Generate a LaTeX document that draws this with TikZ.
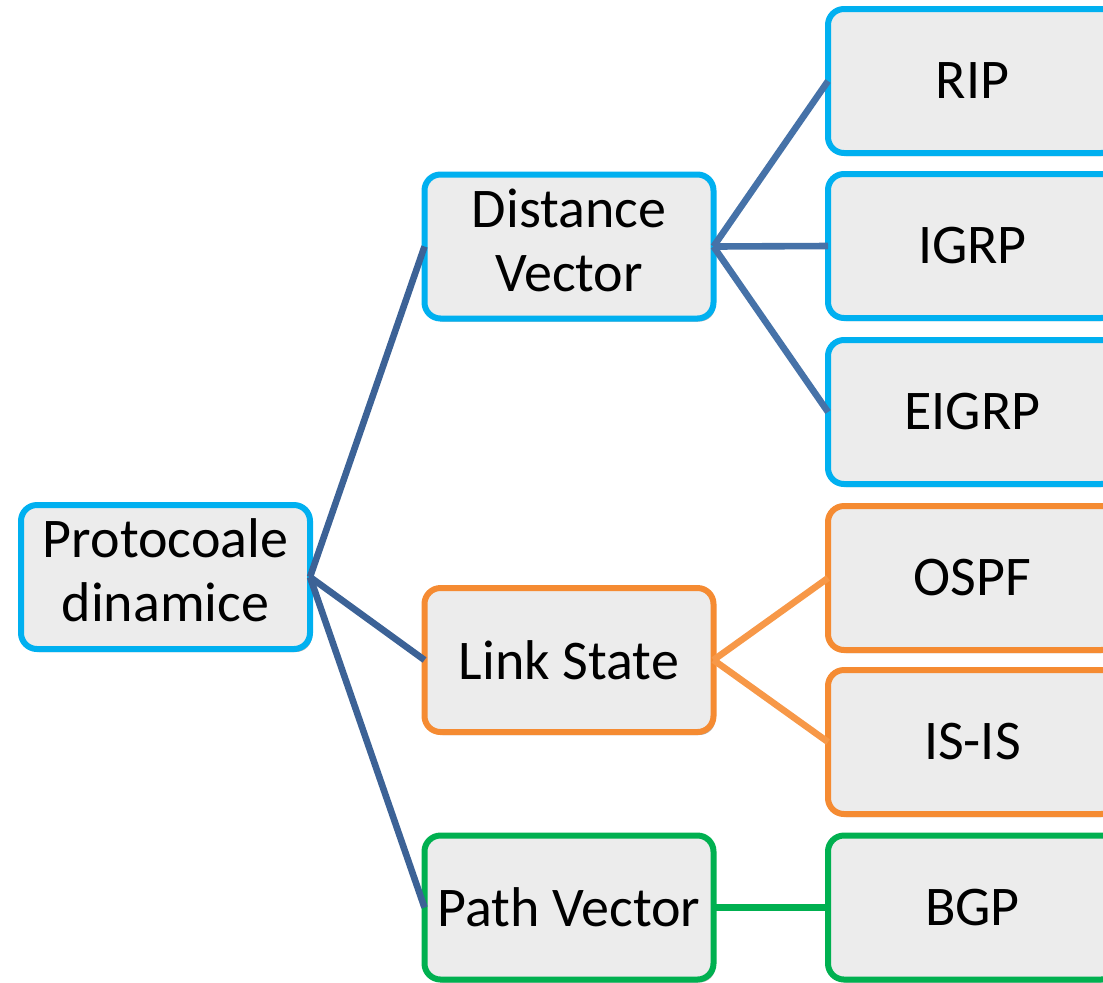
\documentclass[tikz,border=0pt]{standalone}
\usepackage{fontspec}
\setmainfont{Carlito}
\usetikzlibrary{shadows}

\definecolor{boxgray}{RGB}{236,236,236}
\definecolor{dvblue}{RGB}{0,176,240}
\definecolor{lsorange}{RGB}{245,139,50}
\definecolor{pvgreen}{RGB}{0,176,80}
\definecolor{rootblue}{RGB}{60,98,150}
\definecolor{linkblue}{RGB}{70,114,168}
\definecolor{linkorange}{RGB}{247,152,72}

\begin{document}
\begin{tikzpicture}[x=0.5pt, y=-0.5pt,
  box/.style={draw, line width=3pt, rounded corners=8pt, fill=boxgray,
    minimum width=144.5pt, minimum height=72pt, inner sep=2pt, outer sep=0pt,
    align=center, font=\fontsize{28}{32}\selectfont,
    drop shadow={shadow xshift=1pt, shadow yshift=-1.5pt, opacity=0.3, fill=black}},
  bluebox/.style={box, draw=dvblue},
  orangebox/.style={box, draw=lsorange},
  greenbox/.style={box, draw=pvgreen},
  link/.style={line width=3.3pt}]
  \useasboundingbox (0,0) rectangle (1103,982);
  \clip (0,0) rectangle (1103,982);

  % ==================== coloana 1 ====================
  \node[bluebox] (root) at (165.5,577) {\raisebox{2.5pt}{\begin{tabular}{@{}c@{}}Protocoale\\dinamice\end{tabular}}};

  % ==================== coloana 2 ====================
  \node[bluebox]   (dv) at (569,246.5) {\raisebox{2.5pt}{\begin{tabular}{@{}c@{}}Distance\\Vector\end{tabular}}};
  \node[orangebox] (ls) at (569,660)   {Link State};
  \node[greenbox]  (pv) at (569,907.5) {Path Vector};

  % ==================== coloana 3 ====================
  % --- distance vector ---
  \node[bluebox] (rip)   at (972.5,81)  {RIP};
  \node[bluebox] (igrp)  at (972.5,246) {IGRP};
  \node[bluebox] (eigrp) at (972.5,412) {EIGRP};
  % --- link state ---
  \node[orangebox] (ospf) at (972.5,578) {OSPF};
  \node[orangebox] (isis) at (972.5,742) {IS-IS};
  % --- path vector ---
  \node[greenbox] (bgp) at (972.5,907.5) {BGP};

  % ==================== legaturi ====================
  \draw[link, rootblue] (root.east) -- (dv.west);
  \draw[link, rootblue] (root.east) -- (ls.west);
  \draw[link, rootblue] (root.east) -- (pv.west);

  \draw[link, linkblue] (dv.east) -- (rip.west);
  \draw[link, linkblue] (dv.east) -- (igrp.west);
  \draw[link, linkblue] (dv.east) -- (eigrp.west);

  \draw[link, linkorange] (ls.east) -- (ospf.west);
  \draw[link, linkorange] (ls.east) -- (isis.west);

  \draw[link, pvgreen] (pv.east) -- (bgp.west);
\end{tikzpicture}
\end{document}
